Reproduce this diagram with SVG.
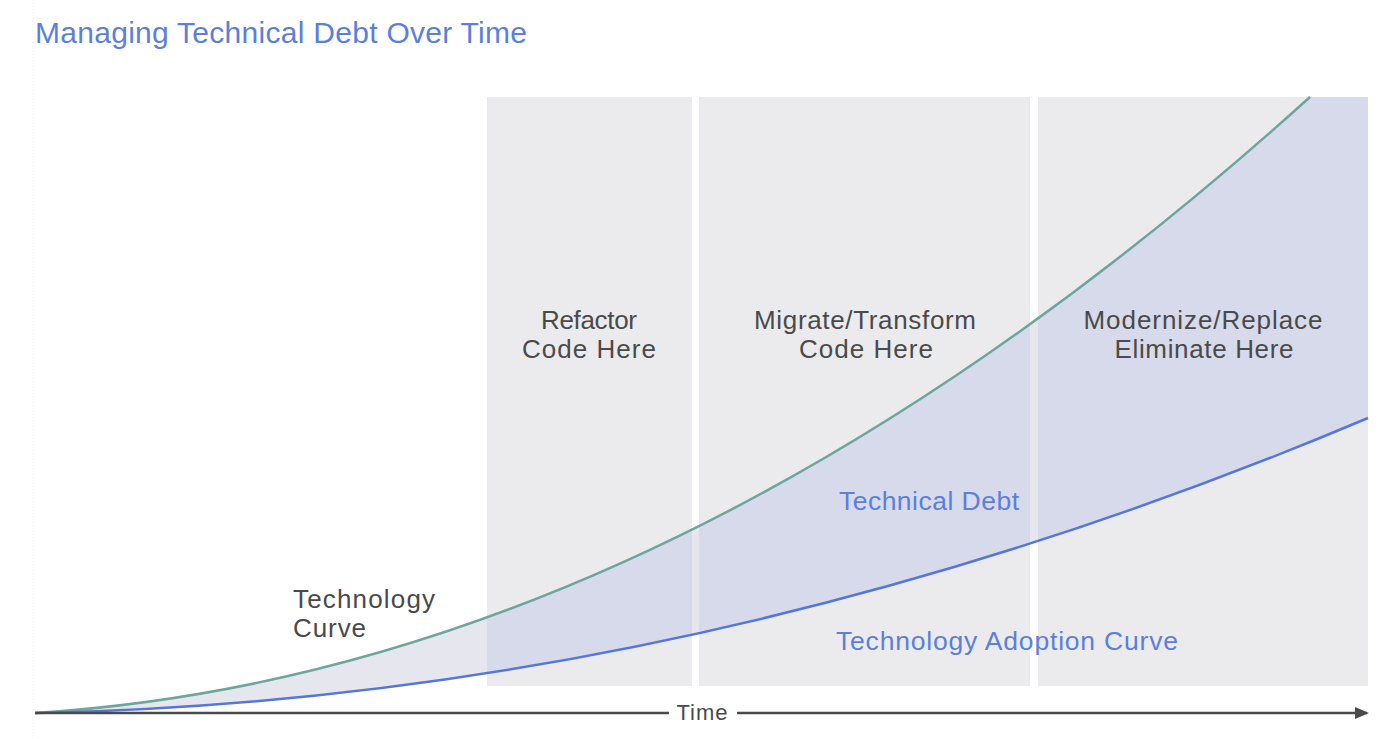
<svg xmlns="http://www.w3.org/2000/svg" width="1400" height="739" viewBox="0 0 1400 739">
  <defs>
    <style>
      .panel { fill: #ebebee; }
      .lbl { font-family: "Liberation Sans", Arial, sans-serif; font-size: 26px; fill: #4a4a4a; text-anchor: middle; }
      .blue { font-family: "Liberation Sans", Arial, sans-serif; font-size: 26.5px; fill: #5b7fdb; text-anchor: middle; }
      .title { font-family: "Liberation Sans", Arial, sans-serif; font-size: 30px; fill: #5b7fdb; }
      .curve { fill: none; stroke-width: 2.5; }
      .axis { stroke: #4a4a4a; stroke-width: 2.5; }
    </style>
    <clipPath id="panelsClip">
      <rect x="487" y="97" width="205" height="589"/>
      <rect x="699" y="97" width="331" height="589"/>
      <rect x="1038" y="97" width="330" height="589"/>
    </clipPath>
    <marker id="arrow" markerWidth="14" markerHeight="12" refX="12" refY="6" orient="auto" markerUnits="userSpaceOnUse">
      <path d="M0,0 L14,6 L0,12 Z" fill="#4a4a4a"/>
    </marker>
  </defs>
  <rect width="1400" height="739" fill="#ffffff"/>
  <line x1="33" y1="0" x2="33" y2="739" stroke="#f0f0f2" stroke-width="1" stroke-dasharray="1,2"/>
  <text class="title" x="35" y="43" textLength="492" lengthAdjust="spacing">Managing Technical Debt Over Time</text>

  <path id="debtArea" d="M35,713 Q672.5,673.3 1310,97 L1368,97 L1368,418 Q701.5,699.7 35,713 Z" fill="#e6e7ee"/>

  <g id="panel-refactor">
    <rect class="panel" x="487" y="97" width="205" height="589"/>
  </g>
  <g id="panel-migrate">
    <rect class="panel" x="699" y="97" width="331" height="589"/>
  </g>
  <g id="panel-modernize">
    <rect class="panel" x="1038" y="97" width="330" height="589"/>
  </g>

  <path id="debtAreaInPanels" d="M35,713 Q672.5,673.3 1310,97 L1368,97 L1368,418 Q701.5,699.7 35,713 Z" fill="#d6daea" clip-path="url(#panelsClip)"/>

  <g id="labels">
    <text class="lbl" x="589" y="329" textLength="96" lengthAdjust="spacing">Refactor</text>
    <text class="lbl" x="589" y="358" textLength="134" lengthAdjust="spacing">Code Here</text>
    <text class="lbl" x="865" y="329" textLength="222" lengthAdjust="spacing">Migrate/Transform</text>
    <text class="lbl" x="866" y="358" textLength="134" lengthAdjust="spacing">Code Here</text>
    <text class="lbl" x="1203" y="329" textLength="239" lengthAdjust="spacing">Modernize/Replace</text>
    <text class="lbl" x="1204" y="358" textLength="179" lengthAdjust="spacing">Eliminate Here</text>
    <text class="lbl" x="293" y="608" style="text-anchor:start" textLength="142" lengthAdjust="spacing">Technology</text>
    <text class="lbl" x="293" y="637" style="text-anchor:start" textLength="73" lengthAdjust="spacing">Curve</text>
    <text class="blue" x="929" y="510" textLength="180" lengthAdjust="spacing">Technical Debt</text>
    <text class="blue" x="1007" y="650" textLength="342" lengthAdjust="spacing">Technology Adoption Curve</text>
  </g>

  <g id="connectors">
    <path id="tech-curve" class="curve" stroke="#6ea69a" d="M35,713 Q672.5,673.3 1310,97"/>
    <path id="adoption-curve" class="curve" stroke="#5577db" d="M35,713 Q701.5,699.7 1368,418"/>
    <line id="time-axis-left" class="axis" x1="35" y1="713" x2="669" y2="713"/>
    <line id="time-axis-right" class="axis" x1="737" y1="713" x2="1367" y2="713" marker-end="url(#arrow)"/>
  </g>
  <g id="time-label">
    <text class="lbl" x="702" y="720" style="font-size:22px" textLength="51" lengthAdjust="spacing">Time</text>
  </g>
</svg>
